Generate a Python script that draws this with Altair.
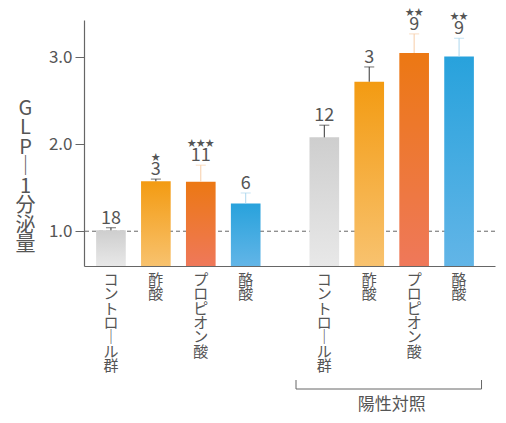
import altair as alt
import pandas as pd

# values
labels = ["コントロール群", "酢酸", "プロピオン酸", "酪酸"]
group_names = ["", "陽性対照"]
means = [1.01, 1.575, 1.57, 1.32, 2.08, 2.72, 3.05, 3.01]
errs = [0.03, 0.025, 0.19, 0.12, 0.14, 0.17, 0.22, 0.21]
counts = [18, 3, 11, 6, 12, 3, 9, 9]
stars = ["", "★", "★★★", "", "", "", "★★", "★★"]
y_title = "GLP-1分泌量"

top_colors = ["#cecece", "#f39b12", "#ec7813", "#28a2dc"]
bottom_colors = ["#e8e8e8", "#f8c26e", "#ef785a", "#62b5e7"]
err_colors = ["#333333", "#333333", "#f7cda8", "#acd7ee"]

FONT = "Noto Sans CJK JP"
GREY = "#555555"
GAP = 4.75  # slot offset of the second group
Y_MIN, Y_MAX = 0.6, 3.43

rows = []
for g, gname in enumerate(group_names):
    for i, lab in enumerate(labels):
        k = g * len(labels) + i
        rows.append({
            "group": gname,
            "acid": i,
            "pos": i + g * GAP,
            "label": "\n".join(lab.replace("ー", "｜")),
            "mean": means[k],
            "top": means[k] + errs[k],
            "n": str(counts[k]),
            "stars": stars[k],
            "errcolor": err_colors[i],
        })
df = pd.DataFrame(rows)

x_scale = alt.Scale(domain=[-0.6, 8.55], nice=False, zero=False)
y_scale = alt.Scale(domain=[Y_MIN, Y_MAX], nice=False, zero=False)

x_axis = alt.Axis(title=None, labels=False, ticks=False, grid=False,
                  domainColor="#666666", domainWidth=1.2)
y_axis = alt.Axis(title=list(y_title.replace("-", "｜")), titleAngle=0,
                  titleX=-59, titleY=78, titleAlign="center",
                  titleBaseline="top", titleFontSize=20,
                  titleLineHeight=19.5, titleFont=FONT,
                  titleColor=GREY, titleFontWeight="normal",
                  values=[1, 2, 3], format=".1f", grid=False,
                  tickSize=9, tickColor="#666666", labelPadding=3,
                  labelFontSize=17, labelColor=GREY, labelFont=FONT,
                  domainColor="#666666", domainWidth=1.2)


def X(field):
    return alt.X(field, scale=x_scale, axis=x_axis)


def Y(field):
    return alt.Y(field, scale=y_scale, axis=y_axis)


base = alt.Chart(df)

baseline = alt.Chart(pd.DataFrame({"y": [1.0]})).mark_rule(
    color="#666666", strokeDash=[4, 3], strokeWidth=1
).encode(y=Y("y:Q"))

bars = []
for i in range(len(labels)):
    grad = alt.Gradient(
        gradient="linear",
        stops=[alt.GradientStop(color=top_colors[i], offset=0),
               alt.GradientStop(color=bottom_colors[i], offset=1)],
        x1=0, x2=0, y1=0, y2=1,
    )
    layer = base.transform_filter(alt.datum.acid == i).transform_calculate(
        x0="datum.pos - 0.33", x1="datum.pos + 0.33", floor=str(Y_MIN)
    ).mark_bar(color=grad).encode(
        x=X("x0:Q"), x2="x1:Q",
        y=Y("mean:Q"), y2="floor:Q",
    )
    bars.append(layer)

err_line = base.mark_rule(strokeWidth=1).encode(
    x=X("pos:Q"), y=Y("mean:Q"), y2="top:Q",
    color=alt.Color("errcolor:N", scale=None),
)
err_cap = base.mark_tick(orient="horizontal", size=10, thickness=1).encode(
    x=X("pos:Q"), y=Y("top:Q"),
    color=alt.Color("errcolor:N", scale=None),
)

n_text = base.mark_text(baseline="alphabetic", dy=-4, fontSize=18,
                        font=FONT, color=GREY).encode(
    x=X("pos:Q"), y=Y("top:Q"), text="n:N"
)
star_text = base.mark_text(baseline="alphabetic", dy=-19, fontSize=9,
                           font=FONT, color=GREY).encode(
    x=X("pos:Q"), y=Y("top:Q"), text="stars:N"
)

x_labels = base.mark_text(baseline="top", lineBreak="\n", fontSize=15,
                          lineHeight=14.3, font=FONT, color=GREY).encode(
    x=X("pos:Q"), y=alt.value(253), text="label:N"
)

# bracket under the positive-control group
pos_group = base.transform_filter(alt.datum.group == group_names[1]).transform_aggregate(
    lo="min(pos)", hi="max(pos)", mid="mean(pos)"
).transform_calculate(left="datum.lo - 0.63", right="datum.hi + 0.5")

bracket = pos_group.mark_rule(color="#666666", strokeWidth=1).encode(
    x=X("left:Q"), x2="right:Q", y=alt.value(369)
)
bracket_l = pos_group.mark_rule(color="#666666", strokeWidth=1).encode(
    x=X("left:Q"), y=alt.value(360), y2=alt.value(369)
)
bracket_r = pos_group.mark_rule(color="#666666", strokeWidth=1).encode(
    x=X("right:Q"), y=alt.value(360), y2=alt.value(369)
)
bracket_text = pos_group.transform_calculate(name=f"'{group_names[1]}'").mark_text(
    baseline="top", fontSize=17, font=FONT, color=GREY
).encode(x=X("mid:Q"), y=alt.value(377), text="name:N")

chart = alt.layer(
    baseline, *bars, err_line, err_cap, n_text, star_text, x_labels,
    bracket, bracket_l, bracket_r, bracket_text
).properties(
    width=411, height=246,
    autosize=alt.AutoSizeParams(type="none"),
    padding={"left": 76, "top": 12, "right": 3, "bottom": 149},
).configure_view(stroke=None)

chart.save("out.html", embed_options={"renderer": "svg", "actions": False})
